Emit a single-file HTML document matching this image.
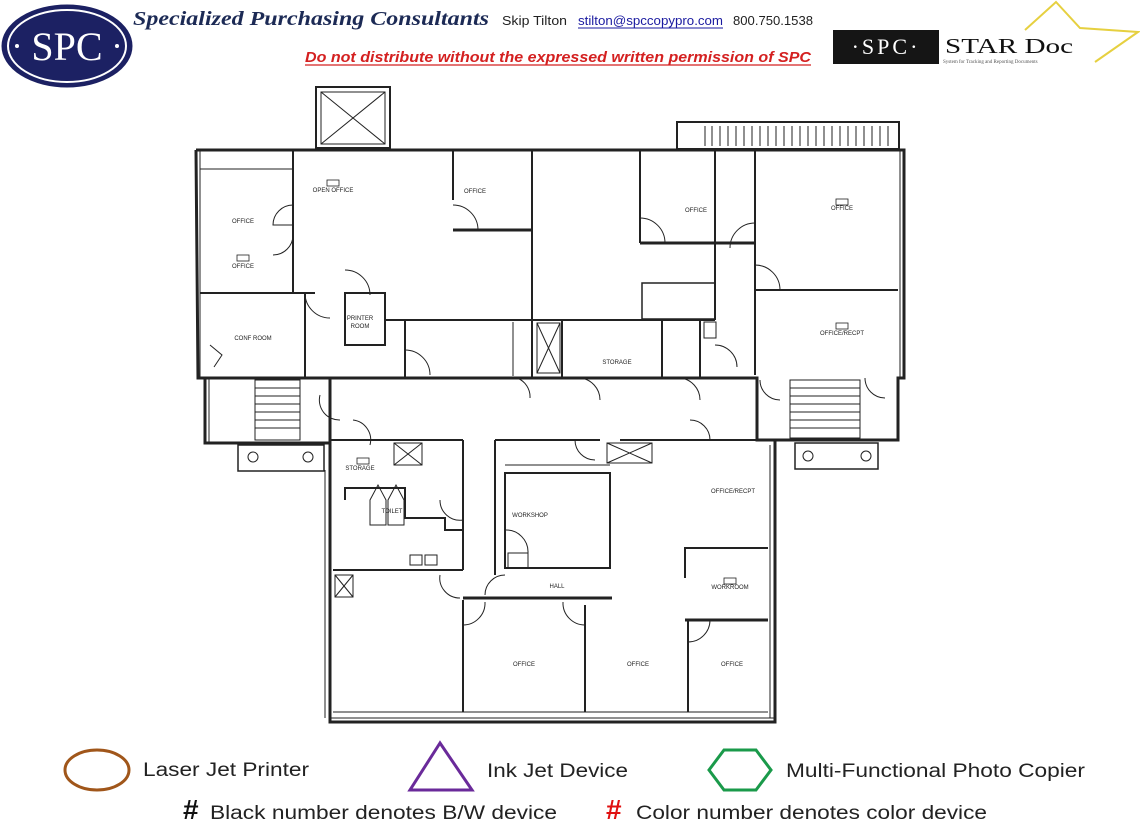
<!DOCTYPE html>
<html><head><meta charset="utf-8"><style>
html,body{margin:0;padding:0;background:#fff;}
svg{display:block}
</style></head><body>
<svg width="1140" height="828" viewBox="0 0 1140 828" xmlns="http://www.w3.org/2000/svg" font-family="Liberation Sans, sans-serif">
<!-- header -->
<ellipse cx="67" cy="46" rx="65" ry="41" fill="#1c2163" stroke="#1c2163"/>
<ellipse cx="67" cy="46" rx="59" ry="36" fill="none" stroke="#fff" stroke-width="2"/>
<text x="67" y="60" font-family="Liberation Serif, serif" font-size="40" fill="#fff" text-anchor="middle">SPC</text>
<circle cx="17" cy="46" r="2" fill="#fff"/><circle cx="117" cy="46" r="2" fill="#fff"/>
<text x="133" y="25" font-family="Liberation Serif, serif" font-style="italic" font-weight="bold" font-size="20" fill="#1c2a55" textLength="356" lengthAdjust="spacingAndGlyphs">Specialized Purchasing Consultants</text>
<text x="502" y="25" font-size="13" fill="#222" textLength="65" lengthAdjust="spacingAndGlyphs">Skip Tilton</text>
<text x="578" y="25" font-size="13" fill="#1a1aa0" textLength="145" lengthAdjust="spacingAndGlyphs">stilton@spccopypro.com</text>
<line x1="578" y1="28" x2="723" y2="28" stroke="#1a1aa0" stroke-width="1"/>
<text x="733" y="25" font-size="13" fill="#222" textLength="80" lengthAdjust="spacingAndGlyphs">800.750.1538</text>
<text x="305" y="62" font-size="15" font-weight="bold" font-style="italic" fill="#d42020" textLength="506" lengthAdjust="spacingAndGlyphs">Do not distribute without the expressed written permission of SPC</text>
<line x1="305" y1="65" x2="811" y2="65" stroke="#d42020" stroke-width="1.2"/>
<!-- star doc -->
<polyline points="1025,30 1056,2 1080,28 1138,32 1095,62" fill="none" stroke="#e6d040" stroke-width="2"/>
<rect x="833" y="30" width="106" height="34" fill="#151515"/>
<text x="886" y="54" font-family="Liberation Serif, serif" font-size="22" fill="#fff" text-anchor="middle" letter-spacing="3">·SPC·</text>
<text x="945" y="53" font-family="Liberation Serif, serif" font-size="21" fill="#111" textLength="128" lengthAdjust="spacingAndGlyphs">STAR Doc</text>
<text x="943" y="63" font-family="Liberation Serif, serif" font-size="5" fill="#555">System for Tracking and Reporting Documents</text>

<!-- floor plan -->
<g fill="none" stroke="#222" stroke-width="2">
<rect x="316" y="87" width="74" height="61"/>
<rect x="321" y="92" width="64" height="52" stroke-width="1"/>
<line x1="321" y1="92" x2="385" y2="144" stroke-width="1"/><line x1="385" y1="92" x2="321" y2="144" stroke-width="1"/>
<rect x="677" y="122" width="222" height="27"/>
<g stroke-width="1"><line x1="705" y1="126" x2="705" y2="146"/><line x1="712" y1="126" x2="712" y2="146"/><line x1="720" y1="126" x2="720" y2="146"/><line x1="728" y1="126" x2="728" y2="146"/><line x1="736" y1="126" x2="736" y2="146"/><line x1="744" y1="126" x2="744" y2="146"/><line x1="752" y1="126" x2="752" y2="146"/><line x1="760" y1="126" x2="760" y2="146"/><line x1="768" y1="126" x2="768" y2="146"/><line x1="776" y1="126" x2="776" y2="146"/><line x1="784" y1="126" x2="784" y2="146"/><line x1="792" y1="126" x2="792" y2="146"/><line x1="800" y1="126" x2="800" y2="146"/><line x1="808" y1="126" x2="808" y2="146"/><line x1="816" y1="126" x2="816" y2="146"/><line x1="824" y1="126" x2="824" y2="146"/><line x1="832" y1="126" x2="832" y2="146"/><line x1="840" y1="126" x2="840" y2="146"/><line x1="848" y1="126" x2="848" y2="146"/><line x1="856" y1="126" x2="856" y2="146"/><line x1="864" y1="126" x2="864" y2="146"/><line x1="872" y1="126" x2="872" y2="146"/><line x1="880" y1="126" x2="880" y2="146"/><line x1="888" y1="126" x2="888" y2="146"/></g>
<polyline points="196,150 904,150 904,378 898,378 898,440 757,440 757,378 198,378 196,150" stroke-width="3"/>
<polyline points="205,378 205,443 330,443 330,378" stroke-width="3"/>
<line x1="293" y1="150" x2="293" y2="293"/>
<line x1="200" y1="169" x2="293" y2="169" stroke-width="1"/>
<line x1="200" y1="293" x2="315" y2="293"/>
<line x1="305" y1="293" x2="305" y2="378"/>
<rect x="345" y="293" width="40" height="52"/>
<line x1="385" y1="320" x2="715" y2="320"/>
<line x1="532" y1="150" x2="532" y2="378"/>
<line x1="453" y1="150" x2="453" y2="200"/>
<line x1="453" y1="230" x2="532" y2="230" stroke-width="3"/>
<line x1="640" y1="150" x2="640" y2="243"/>
<line x1="640" y1="243" x2="755" y2="243" stroke-width="3"/>
<line x1="715" y1="150" x2="715" y2="320"/>
<line x1="755" y1="150" x2="755" y2="375"/>
<line x1="755" y1="290" x2="898" y2="290"/>
<rect x="642" y="283" width="73" height="36" stroke-width="1.5"/>
<line x1="562" y1="320" x2="562" y2="378"/>
<line x1="662" y1="320" x2="662" y2="378"/>
<line x1="700" y1="320" x2="700" y2="378"/>
<rect x="537" y="323" width="23" height="50" stroke-width="1"/>
<line x1="537" y1="323" x2="560" y2="373" stroke-width="1"/><line x1="560" y1="323" x2="537" y2="373" stroke-width="1"/>
<rect x="704" y="322" width="12" height="16" stroke-width="1"/>
<line x1="405" y1="320" x2="405" y2="378"/>
<line x1="513" y1="322" x2="513" y2="376" stroke-width="1"/>
<g stroke-width="1">
<path d="M293,205 A20,20 0 0 0 273,225 L293,225"/>
<path d="M293,235 A20,20 0 0 1 273,255"/>
<path d="M453,205 A25,25 0 0 1 478,230"/>
<path d="M640,218 A25,25 0 0 1 665,243"/>
<path d="M755,223 A25,25 0 0 0 730,248"/>
<path d="M755,265 A25,25 0 0 1 780,290"/>
<path d="M305,293 A25,25 0 0 0 330,318"/>
<path d="M345,270 A25,25 0 0 1 370,295"/>
<path d="M405,350 A25,25 0 0 1 430,375"/>
<path d="M580,378 A22,22 0 0 1 600,400"/>
<path d="M680,378 A22,22 0 0 1 700,400"/>
<path d="M715,345 A22,22 0 0 1 737,367"/>
<path d="M760,380 A20,20 0 0 0 780,400"/>
<path d="M320,395 A20,20 0 0 0 340,420"/>
<path d="M353,420 A20,20 0 0 1 370,445"/>
<path d="M690,420 A20,20 0 0 1 710,440"/>
<path d="M517,378 A20,20 0 0 1 530,398"/>
<path d="M865,378 A20,20 0 0 0 885,398"/>
</g>
<rect x="255" y="380" width="45" height="60" stroke-width="1"/>
<g stroke-width="1"><line x1="255" y1="388" x2="300" y2="388"/><line x1="255" y1="396" x2="300" y2="396"/><line x1="255" y1="404" x2="300" y2="404"/><line x1="255" y1="412" x2="300" y2="412"/><line x1="255" y1="420" x2="300" y2="420"/><line x1="255" y1="428" x2="300" y2="428"/></g>
<rect x="790" y="380" width="70" height="58" stroke-width="1"/>
<g stroke-width="1"><line x1="790" y1="388" x2="860" y2="388"/><line x1="790" y1="396" x2="860" y2="396"/><line x1="790" y1="404" x2="860" y2="404"/><line x1="790" y1="412" x2="860" y2="412"/><line x1="790" y1="420" x2="860" y2="420"/><line x1="790" y1="428" x2="860" y2="428"/></g>
<rect x="238" y="445" width="86" height="26" stroke-width="1.5"/>
<circle cx="253" cy="457" r="5" stroke-width="1"/><circle cx="308" cy="457" r="5" stroke-width="1"/>
<rect x="795" y="443" width="83" height="26" stroke-width="1.5"/>
<circle cx="808" cy="456" r="5" stroke-width="1"/><circle cx="866" cy="456" r="5" stroke-width="1"/>
<polyline points="330,440 330,722 775,722 775,440 757,440" stroke-width="3"/>
<line x1="330" y1="440" x2="463" y2="440" stroke-width="2"/>
<line x1="495" y1="440" x2="600" y2="440"/>
<line x1="620" y1="440" x2="757" y2="440"/>
<line x1="463" y1="440" x2="463" y2="570"/>
<line x1="495" y1="440" x2="495" y2="575"/>
<rect x="394" y="443" width="28" height="22" stroke-width="1"/>
<line x1="394" y1="443" x2="422" y2="465" stroke-width="1"/><line x1="422" y1="443" x2="394" y2="465" stroke-width="1"/>
<polyline points="345,500 345,488 405,488 405,518 445,518 445,530 463,530"/>
<line x1="333" y1="570" x2="463" y2="570"/>
<rect x="335" y="575" width="18" height="22" stroke-width="1"/>
<line x1="335" y1="575" x2="353" y2="597" stroke-width="1"/><line x1="353" y1="575" x2="335" y2="597" stroke-width="1"/>
<rect x="505" y="473" width="105" height="95"/>
<rect x="607" y="443" width="45" height="20" stroke-width="1"/>
<line x1="607" y1="443" x2="652" y2="463" stroke-width="1"/><line x1="652" y1="443" x2="607" y2="463" stroke-width="1"/>
<line x1="505" y1="465" x2="610" y2="465" stroke-width="1"/>
<rect x="508" y="553" width="20" height="15" stroke-width="1"/>
<line x1="463" y1="598" x2="612" y2="598" stroke-width="3"/>
<line x1="463" y1="600" x2="463" y2="712"/>
<line x1="585" y1="605" x2="585" y2="712"/>
<line x1="688" y1="620" x2="688" y2="712"/>
<polyline points="685,578 685,548 768,548"/>
<line x1="685" y1="620" x2="768" y2="620" stroke-width="3"/>
<line x1="333" y1="712" x2="768" y2="712" stroke-width="1"/>
<g stroke-width="1">
<path d="M440,575 A20,20 0 0 0 460,598"/>
<path d="M485,595 A20,20 0 0 1 505,575"/>
<path d="M505,530 A22,22 0 0 1 528,553"/>
<path d="M440,500 A20,20 0 0 0 463,520"/>
<path d="M463,625 A22,22 0 0 0 485,602"/>
<path d="M563,602 A22,22 0 0 0 585,625"/>
<path d="M688,642 A22,22 0 0 0 710,620"/>
<path d="M575,440 A20,20 0 0 0 595,460"/>
<path d="M370,500 l8,-15 l8,15 v25 h-16 z"/><path d="M388,500 l8,-15 l8,15 v25 h-16 z"/>
<rect x="410" y="555" width="12" height="10"/><rect x="425" y="555" width="12" height="10"/>
<path d="M210,345 l12,10 l-8,12"/>
</g>
<g stroke-width="1"><line x1="200" y1="150" x2="200" y2="378"/><line x1="900" y1="150" x2="900" y2="378"/><line x1="325" y1="470" x2="325" y2="718"/><line x1="770" y1="445" x2="770" y2="718"/><line x1="330" y1="718" x2="775" y2="718"/><line x1="209" y1="378" x2="209" y2="443"/></g>
</g>
<g font-size="6" fill="#222" text-anchor="middle">
<text x="243" y="223">OFFICE</text>
<text x="243" y="268">OFFICE</text><rect x="237" y="255" width="12" height="6" fill="none" stroke="#222" stroke-width="0.8"/>
<text x="333" y="192">OPEN OFFICE</text><rect x="327" y="180" width="12" height="6" fill="none" stroke="#222" stroke-width="0.8"/>
<text x="475" y="193">OFFICE</text>
<text x="696" y="212">OFFICE</text>
<text x="842" y="210">OFFICE</text><rect x="836" y="199" width="12" height="6" fill="none" stroke="#222" stroke-width="0.8"/>
<text x="842" y="335">OFFICE/RECPT</text><rect x="836" y="323" width="12" height="6" fill="none" stroke="#222" stroke-width="0.8"/>
<text x="253" y="340">CONF ROOM</text>
<text x="360" y="320">PRINTER</text><text x="360" y="328">ROOM</text>
<text x="617" y="364">STORAGE</text>
<text x="360" y="470">STORAGE</text><rect x="357" y="458" width="12" height="6" fill="none" stroke="#222" stroke-width="0.8"/>
<text x="392" y="513">TOILET</text>
<text x="530" y="517">WORKSHOP</text>
<text x="557" y="588">HALL</text>
<text x="733" y="493">OFFICE/RECPT</text>
<text x="730" y="589">WORKROOM</text><rect x="724" y="578" width="12" height="6" fill="none" stroke="#222" stroke-width="0.8"/>
<text x="524" y="666">OFFICE</text>
<text x="638" y="666">OFFICE</text>
<text x="732" y="666">OFFICE</text>
</g>
<!-- legend -->
<ellipse cx="97" cy="770" rx="32" ry="20" fill="none" stroke="#a0561a" stroke-width="3"/>
<text x="143" y="776" font-size="19" fill="#222" textLength="166" lengthAdjust="spacingAndGlyphs">Laser Jet Printer</text>
<polygon points="440,743 410,790 472,790" fill="none" stroke="#6a2a9a" stroke-width="3"/>
<text x="487" y="777" font-size="19" fill="#222" textLength="141" lengthAdjust="spacingAndGlyphs">Ink Jet Device</text>
<polygon points="724,750 756,750 771,770 756,790 724,790 709,770" fill="none" stroke="#1a9a4a" stroke-width="3"/>
<text x="786" y="777" font-size="19" fill="#222" textLength="299" lengthAdjust="spacingAndGlyphs">Multi-Functional Photo Copier</text>
<text x="183" y="819" font-size="28" font-weight="bold" fill="#111">#</text>
<text x="210" y="819" font-size="19" fill="#222" textLength="347" lengthAdjust="spacingAndGlyphs">Black number denotes B/W device</text>
<text x="606" y="819" font-size="28" font-weight="bold" fill="#e01010">#</text>
<text x="636" y="819" font-size="19" fill="#222" textLength="351" lengthAdjust="spacingAndGlyphs">Color number denotes color device</text>
</svg>
</body></html>
